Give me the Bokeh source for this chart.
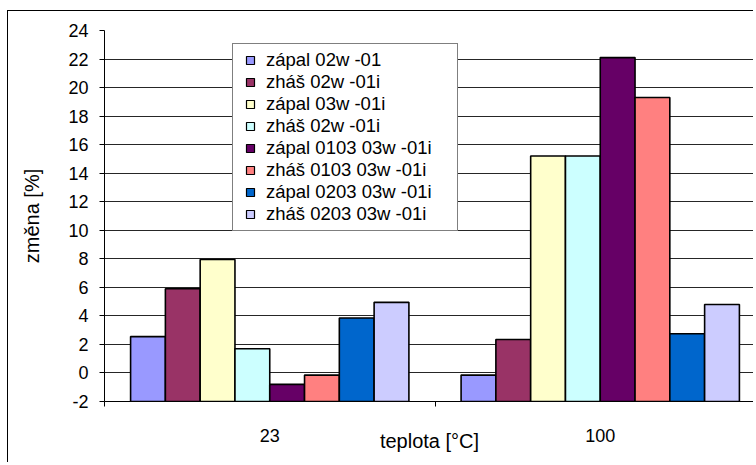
from bokeh.plotting import figure
from bokeh.models import Range1d, FixedTicker, Legend, LegendItem, ColumnDataSource
from bokeh.embed import file_html
from bokeh.resources import INLINE

# ---- data ----
categories = ["23", "100"]
series_names = [
    "zápal 02w -01",
    "zháš 02w -01i",
    "zápal 03w -01i",
    "zháš 02w -01i",
    "zápal 0103 03w -01i",
    "zháš 0103 03w -01i",
    "zápal 0203 03w -01i",
    "zháš 0203 03w -01i",
]
values_23 = [2.55, 5.9, 7.95, 1.7, -0.8, -0.15, 3.85, 4.95]
values_100 = [-0.15, 2.35, 15.2, 15.2, 22.1, 19.3, 2.75, 4.8]
colors = ["#9999FF", "#993366", "#FFFFCC", "#CCFFFF", "#660066", "#FF8080", "#0066CC", "#CCCCFF"]
y_ticks = [-2, 0, 2, 4, 6, 8, 10, 12, 14, 16, 18, 20, 22, 24]
y_tick_labels = ["-2", "0", "2", "4", "6", "8", "10", "12", "14", "16", "18", "20", "22", "24"]

FONT = "Liberation Sans"
y_min, y_max = -2, 24

W, H = 746, 452
left_b, top_b, bottom_b = 96, 19, 62
cat_px = 330.5
x_end = (W - left_b) / cat_px

p = figure(width=W, height=H, output_backend="svg", toolbar_location=None,
           x_range=Range1d(0, x_end), y_range=Range1d(y_min, y_max),
           min_border_left=left_b, min_border_right=0,
           min_border_top=top_b, min_border_bottom=bottom_b,
           background_fill_color="white", border_fill_color="white")
p.styles = {"border-left": "1px solid black", "border-top": "1px solid black",
            "margin-top": "10px", "margin-left": "7px"}
p.outline_line_color = None

n = len(series_names)
bw = 1.0 / (n + 1.5)
items = []
for i, name in enumerate(series_names):
    xs = [c + 0.5 + (i - (n - 1) / 2) * bw for c in range(len(categories))]
    tops = [values_23[i], values_100[i]]
    src = ColumnDataSource(dict(x=xs, top=tops))
    p.vbar(x="x", top="top", bottom=y_min, width=bw, source=src,
           fill_color=colors[i], line_color="black", line_width=1.6)
    # zero-size markers on the bar tops: they only supply the square legend swatch
    sw = p.scatter(x="x", y="top", source=src, marker="square", size=0,
                   fill_color=colors[i], line_color="black", line_width=1.2)
    items.append(LegendItem(label=name, renderers=[sw]))

# x axis: labels centered in categories, tick marks at boundaries
p.xaxis.ticker = FixedTicker(ticks=[c + 0.5 for c in range(len(categories))],
                             minor_ticks=list(range(len(categories) + 1)))
p.xaxis.major_label_overrides = {c + 0.5: lab for c, lab in enumerate(categories)}
p.xaxis.major_tick_out = 0
p.xaxis.major_tick_in = 0
p.xaxis.minor_tick_out = 5
p.xaxis.minor_tick_in = 0
p.xaxis.major_label_standoff = 22
p.xaxis.axis_label = "teplota [°C]"
p.xaxis.axis_label_standoff = -15
p.xaxis.axis_line_color = "black"
p.xaxis.minor_tick_line_color = "black"

p.yaxis.ticker = FixedTicker(ticks=y_ticks, minor_ticks=[])
p.yaxis.major_label_overrides = dict(zip(y_ticks, y_tick_labels))
p.yaxis.major_tick_out = 5
p.yaxis.major_tick_in = 0
p.yaxis.major_label_standoff = 11
p.yaxis.axis_label = "změna [%]"
p.yaxis.axis_label_standoff = 22
p.yaxis.axis_line_color = "black"
p.yaxis.major_tick_line_color = "black"

for ax in (p.xaxis[0], p.yaxis[0]):
    ax.major_label_text_font = FONT
    ax.major_label_text_font_size = "18px"
    ax.major_label_text_color = "black"
    ax.axis_label_text_font = FONT
    ax.axis_label_text_font_size = "20px"
    ax.axis_label_text_font_style = "normal"
    ax.axis_label_text_color = "black"

p.xgrid.grid_line_color = None
p.ygrid.ticker = FixedTicker(ticks=y_ticks)
p.ygrid.grid_line_color = "black"
p.ygrid.grid_line_alpha = 0.85

legend = Legend(items=items, location=(128, 170))
legend.label_text_font = FONT
legend.label_text_font_size = "18.5px"
legend.label_text_color = "black"
legend.label_height = 22
legend.label_width = 186
legend.glyph_height = 20
legend.glyph_width = 24
legend.spacing = 0
legend.padding = 5
legend.margin = 0
legend.label_standoff = 4
legend.border_line_color = "black"
legend.border_line_width = 1
legend.background_fill_color = "white"
legend.background_fill_alpha = 1.0
p.add_layout(legend)

open("out.html", "w").write(file_html(p, INLINE))
